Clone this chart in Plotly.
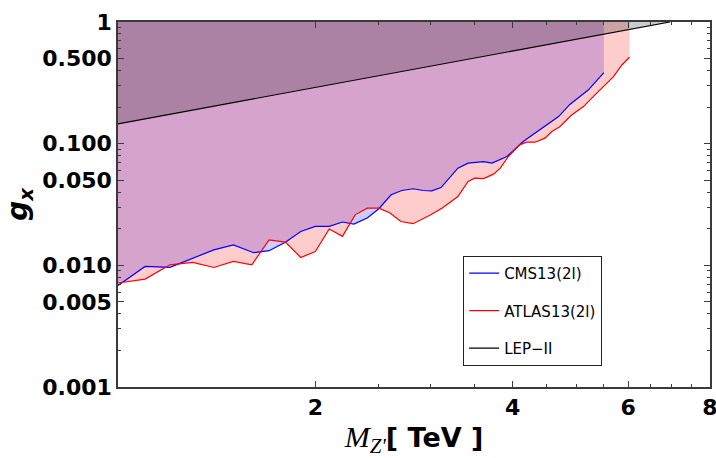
import math
import plotly.graph_objects as go

# ---------------- data ----------------
cms_m = [1.00, 1.10, 1.20, 1.30, 1.40, 1.50, 1.61, 1.70, 1.80, 1.90, 2.00, 2.10, 2.20, 2.29,
         2.40, 2.50, 2.61, 2.71, 2.82, 2.92, 3.01, 3.11, 3.20, 3.30, 3.42, 3.61, 3.72, 3.92,
         4.15, 4.33, 4.53, 4.70, 4.89, 5.00, 5.22, 5.51]
cms_g = [0.00684, 0.0098, 0.00962, 0.0114, 0.0134, 0.0147, 0.0127, 0.0132, 0.0155, 0.0190,
         0.0209, 0.0209, 0.0227, 0.0218, 0.0245, 0.0292, 0.0380, 0.0412, 0.0426, 0.0412,
         0.0410, 0.0436, 0.052, 0.0629, 0.0692, 0.0713, 0.0692, 0.0784, 0.104, 0.122,
         0.143, 0.167, 0.210, 0.232, 0.277, 0.384]

atlas_m = [1.00, 1.10, 1.20, 1.30, 1.40, 1.50, 1.60, 1.70, 1.80, 1.90, 2.00, 2.10, 2.20,
           2.30, 2.40, 2.50, 2.60, 2.70, 2.82, 3.00, 3.12, 3.30, 3.42, 3.50, 3.61, 3.74,
           3.83, 3.94, 4.10, 4.20, 4.33, 4.48, 4.59, 4.72, 4.92, 5.13, 5.34, 5.53, 5.70,
           5.87, 6.03]
atlas_g = [0.00716, 0.00771, 0.0101, 0.01057, 0.0096, 0.01076, 0.0101, 0.0162, 0.0155,
           0.0116, 0.0130, 0.0199, 0.0173, 0.0260, 0.0295, 0.0295, 0.0269, 0.0229, 0.0220,
           0.0260, 0.0295, 0.0368, 0.0489, 0.0521, 0.0517, 0.0562, 0.0629, 0.0784, 0.0978,
           0.1028, 0.1028, 0.111, 0.126, 0.138, 0.172, 0.2017, 0.2517, 0.304, 0.3556,
           0.4435, 0.513]

lep_m = [1.0, 6.95]
lep_g = [0.1455, 1.0]

series_names = ["CMS13(2l)", "ATLAS13(2l)", "LEP\u2212II"]

x_ticks = [2, 4, 6, 8]
x_ticktext = ["2", "4", "6", "8"]
x_minor = [2.5, 3, 3.5, 4.5, 5, 5.5, 6.5, 7, 7.5]
y_ticks = [0.001, 0.005, 0.01, 0.05, 0.1, 0.5, 1]
y_ticktext = ["0.001", "0.005", "0.010", "0.050", "0.100", "0.500", "1"]
y_minor = [k * 10.0 ** e for e in (-3, -2, -1) for k in (2, 3, 4, 6, 7, 8, 9)]

X_MIN, X_MAX = 1.0, 8.0
Y_TOP = 1.0

# ---------------- figure ----------------
fig = go.Figure()


def top_fill(xs, ys, color):
    return go.Scatter(x=list(xs) + [xs[-1], xs[0]], y=list(ys) + [Y_TOP, Y_TOP],
                      mode="none", fill="toself", fillcolor=color,
                      showlegend=False, hoverinfo="skip")


fig.add_trace(top_fill(cms_m, cms_g, "rgba(0,0,255,0.2)"))
fig.add_trace(top_fill(atlas_m, atlas_g, "rgba(255,0,0,0.2)"))
fig.add_trace(go.Scatter(x=lep_m + [lep_m[0]], y=lep_g + [lep_g[-1]], mode="none",
                         fill="toself", fillcolor="rgba(0,0,0,0.2)",
                         showlegend=False, hoverinfo="skip"))

fig.add_trace(go.Scatter(x=cms_m, y=cms_g, mode="lines", name=series_names[0],
                         line=dict(color="#0000ff", width=1.2), legendgroup="a"))
fig.add_trace(go.Scatter(x=atlas_m, y=atlas_g, mode="lines", name=series_names[1],
                         line=dict(color="#ff0000", width=1.2), legendgroup="b"))
fig.add_trace(go.Scatter(x=lep_m, y=lep_g, mode="lines", name=series_names[2],
                         line=dict(color="#000000", width=1.2), legendgroup="c"))

axis_col = "#3a3a3a"
fig.update_layout(
    width=716, height=458,
    margin=dict(l=118, r=6, t=22, b=71, autoexpand=False),
    paper_bgcolor="white", plot_bgcolor="white",
    font=dict(family="DejaVu Sans", color="black"),
    legend=dict(x=0.583, y=0.359, xanchor="left", yanchor="top",
                bgcolor="white", bordercolor="#222", borderwidth=1,
                font=dict(family="DejaVu Sans", size=15, color="black"),
                tracegroupgap=15, traceorder="grouped"),
    xaxis=dict(
        type="log", range=[math.log10(X_MIN), math.log10(X_MAX)], automargin=True,
        ticklabeloverflow="allow",
        showline=True, linecolor=axis_col, linewidth=1.5, mirror="ticks",
        showgrid=False, zeroline=False,
        ticks="inside", ticklen=6, tickwidth=1, tickcolor=axis_col,
        tickmode="array", tickvals=x_ticks, ticktext=x_ticktext,
        tickfont=dict(family="DejaVu Sans", size=22, weight="bold", color="black"),
        minor=dict(ticks="inside", ticklen=3.5, tickwidth=1, tickcolor=axis_col,
                   tickvals=x_minor, showgrid=False),
        title=dict(
            text="<span style=\"font-family:Liberation Serif;font-size:30px\"><i>M</i>"
                 "<sub><i>Z'</i></sub></span><b>[ TeV ]</b>",
            font=dict(family="DejaVu Sans", size=27, color="black"), standoff=10),
    ),
    yaxis=dict(
        type="log", range=[-3, 0], automargin=False,
        ticklabeloverflow="allow",
        showline=True, linecolor=axis_col, linewidth=1.5, mirror="ticks",
        showgrid=False, zeroline=False,
        ticks="inside", ticklen=6, tickwidth=1, tickcolor=axis_col,
        tickmode="array", tickvals=y_ticks, ticktext=y_ticktext,
        tickfont=dict(family="DejaVu Sans", size=22, weight="bold", color="black"),
        minor=dict(ticks="inside", ticklen=3.5, tickwidth=1, tickcolor=axis_col,
                   tickvals=y_minor, showgrid=False),
        title=dict(text="<b><i>g</i><sub><i>x</i></sub></b>",
                   font=dict(family="DejaVu Sans", size=28, color="black"), standoff=6),
    ),
)

fig.write_html("out.html")
